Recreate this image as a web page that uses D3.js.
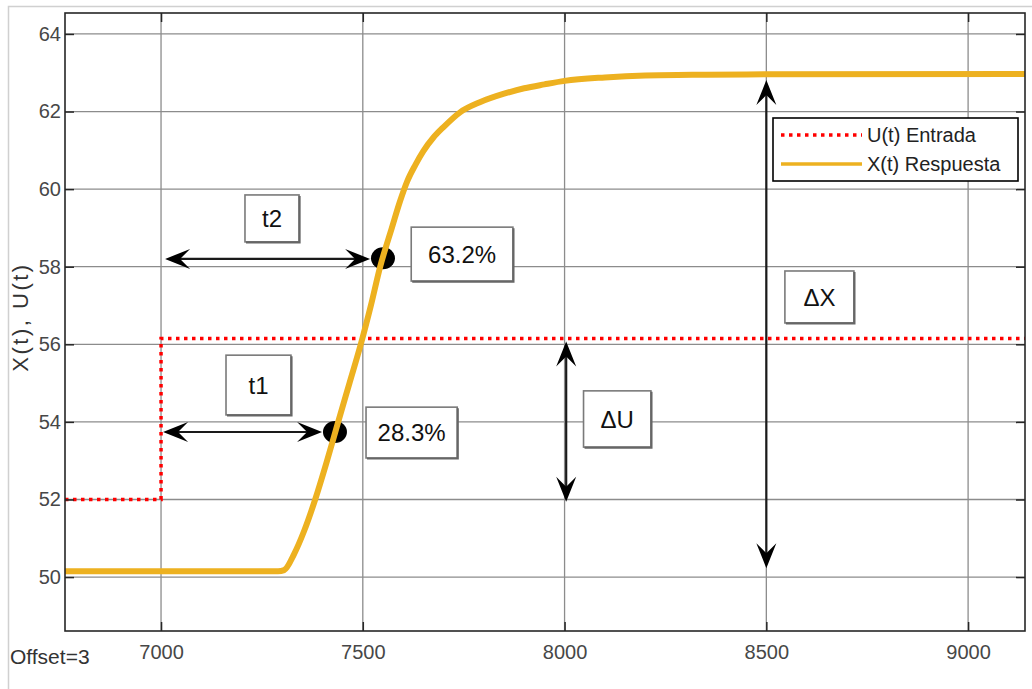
<!DOCTYPE html>
<html>
<head>
<meta charset="utf-8">
<script src="https://cdn.jsdelivr.net/npm/d3@7"></script>
<style>
body { margin: 0; background: #fff; }
svg { display: block; font-family: "Liberation Sans", Arial, sans-serif; }
</style>
</head>
<body>
<svg></svg>
<script>
// U(t) entrada (escalon)
const uTime = [6762, 7000, 7000, 9141];
const uValue = [52, 52, 56.15, 56.15];

// X(t) respuesta
const xTime = [6762, 7290, 7305, 7330, 7355, 7382, 7410, 7439, 7467, 7495, 7520, 7543, 7572, 7592, 7610, 7630, 7650, 7675, 7700, 7741, 7790, 7850, 7900, 7950, 8000, 8100, 8200, 8350, 8500, 9141];
const xValue = [50.15, 50.15, 50.18, 50.6, 51.2, 52.0, 52.95, 54.0, 55.0, 56.0, 57.0, 58.0, 59.0, 59.68, 60.2, 60.62, 60.98, 61.33, 61.6, 61.98, 62.24, 62.46, 62.6, 62.7, 62.79, 62.88, 62.93, 62.95, 62.96, 62.97];

const xTicks = [7000, 7500, 8000, 8500, 9000];
const yTicks = [50, 52, 54, 56, 58, 60, 62, 64];
const seriesNames = ['U(t) Entrada', 'X(t) Respuesta'];

// puntos 28.3% y 63.2%
const markTime = [7431, 7550];
const markValue = [53.74, 58.22];

// flechas [t0, v0, t1, v1]
const arrows = [
  [7010, 58.2, 7518, 58.2],
  [7005, 53.74, 7399, 53.74],
  [8004, 56.07, 8004, 51.94],
  [8500, 62.81, 8500, 50.23]
];

// cuadros de texto [texto, t0, v0, t1, v1]
const boxes = [
  ['t2', 7208, 59.85, 7342, 58.64],
  ['63.2%', 7620, 59.02, 7872, 57.63],
  ['t1', 7161, 55.72, 7322, 54.18],
  ['28.3%', 7508, 54.38, 7734, 53.07],
  ['\u0394U', 8047, 54.80, 8214, 53.35],
  ['\u0394X', 8546, 57.89, 8717, 56.55]
];

const width = 1032;
const height = 689;
const svg = d3.select('svg').attr('width', width).attr('height', height);

const pL = 65, pR = 1025, pT = 13, pB = 631;
const x = d3.scaleLinear().domain([6762, 9141]).range([pL, pR]);
const y = d3.scaleLinear().domain([48.61, 64.54]).range([pB, pT]);

// marco exterior
svg.append('path')
  .attr('d', `M8.5,${height} V6.5 H${width}`)
  .attr('fill', 'none').attr('stroke', '#d0d0d0').attr('stroke-width', 1.5);

// rejilla
const grid = svg.append('g').attr('stroke', '#8c8c8c').attr('stroke-width', 1.3);
grid.selectAll('.gx').data(xTicks).enter().append('line')
  .attr('x1', d => x(d)).attr('x2', d => x(d)).attr('y1', pT).attr('y2', pB);
grid.selectAll('.gy').data(yTicks).enter().append('line')
  .attr('y1', d => y(d)).attr('y2', d => y(d)).attr('x1', pL).attr('x2', pR);

const plot = svg.append('g');
const line = d3.line().x(d => x(d[0])).y(d => y(d[1]));

const uData = uTime.map((t, i) => [t, uValue[i]]);
const xData = xTime.map((t, i) => [t, xValue[i]]);

plot.append('path')
  .attr('d', line(uData))
  .attr('fill', 'none').attr('stroke', '#ff0000')
  .attr('stroke-width', 3.5).attr('stroke-dasharray', '3.5,4.5');

// flechas
const arrowG = plot.append('g');
arrows.forEach(a => {
  const x0 = x(a[0]), y0 = y(a[1]), x1 = x(a[2]), y1 = y(a[3]);
  const ang = Math.atan2(y1 - y0, x1 - x0) * 180 / Math.PI;
  const len = Math.hypot(x1 - x0, y1 - y0);
  const ux = (x1 - x0) / len, uy = (y1 - y0) / len;
  arrowG.append('line')
    .attr('x1', x0 + ux * 12).attr('y1', y0 + uy * 12)
    .attr('x2', x1 - ux * 12).attr('y2', y1 - uy * 12)
    .attr('stroke', '#1a1a1a').attr('stroke-width', 2.2);
  [[x1, y1, ang], [x0, y0, ang + 180]].forEach(h => {
    arrowG.append('path')
      .attr('d', 'M0,0 L-25,-10 L-15,0 L-25,10 Z')
      .attr('transform', `translate(${h[0]},${h[1]}) rotate(${h[2]})`)
      .attr('fill', '#000');
  });
});

// puntos
plot.selectAll('.mark').data(markTime).enter().append('ellipse')
  .attr('cx', d => x(d)).attr('cy', (d, i) => y(markValue[i]))
  .attr('rx', 12).attr('ry', 11).attr('fill', '#000');

plot.append('path')
  .attr('d', line.curve(d3.curveMonotoneX)(xData))
  .attr('fill', 'none').attr('stroke', '#EDB120')
  .attr('stroke-width', 6).attr('stroke-linejoin', 'round');

// cuadros
boxes.forEach(b => {
  const x0 = x(b[1]), y0 = y(b[2]), x1 = x(b[3]), y1 = y(b[4]);
  const g = plot.append('g');
  g.append('rect')
    .attr('x', x0).attr('y', y0).attr('width', x1 - x0).attr('height', y1 - y0)
    .attr('fill', '#fff').attr('stroke', '#7a7a7a').attr('stroke-width', 1.6);
  g.append('path')
    .attr('d', `M${x0 + 1},${y1 + 0.5} H${x1 + 0.5} V${y0 + 1}`)
    .attr('fill', 'none').attr('stroke', '#666').attr('stroke-width', 2.2);
  g.append('text')
    .attr('x', (x0 + x1) / 2).attr('y', (y0 + y1) / 2)
    .attr('dy', '0.36em').attr('text-anchor', 'middle')
    .attr('font-size', 24).attr('fill', '#111')
    .text(b[0]);
});

// ejes
function styleAxis(g, labels) {
  g.select('.domain').remove();
  g.selectAll('.tick line').attr('stroke', '#262626').attr('stroke-width', 1.5);
  g.selectAll('text')
    .attr('font-family', '"Liberation Sans", Arial, sans-serif')
    .attr('font-size', 20).attr('fill', '#474747');
  if (!labels) g.selectAll('text').remove();
}
svg.append('g').attr('transform', `translate(0,${pB})`)
  .call(d3.axisBottom(x).tickValues(xTicks).tickSizeInner(-9).tickSizeOuter(0).tickPadding(14).tickFormat(d3.format('d')))
  .call(g => styleAxis(g, true));
svg.append('g').attr('transform', `translate(${pL},0)`)
  .call(d3.axisLeft(y).tickValues(yTicks).tickSizeInner(-9).tickSizeOuter(0).tickPadding(4).tickFormat(d3.format('d')))
  .call(g => styleAxis(g, true));
svg.append('g').attr('transform', `translate(0,${pT})`)
  .call(d3.axisTop(x).tickValues(xTicks).tickSizeInner(-9).tickSizeOuter(0))
  .call(g => styleAxis(g, false));
svg.append('g').attr('transform', `translate(${pR},0)`)
  .call(d3.axisRight(y).tickValues(yTicks).tickSizeInner(-9).tickSizeOuter(0))
  .call(g => styleAxis(g, false));

svg.append('rect')
  .attr('x', pL).attr('y', pT).attr('width', pR - pL).attr('height', pB - pT)
  .attr('fill', 'none').attr('stroke', '#262626').attr('stroke-width', 1.6);

svg.append('text')
  .attr('transform', 'translate(28,317) rotate(-90)')
  .attr('text-anchor', 'middle').attr('font-size', 22)
  .attr('letter-spacing', 2.5).attr('fill', '#333')
  .text('X(t), U(t)');

svg.append('text')
  .attr('x', 10).attr('y', 664)
  .attr('font-size', 21).attr('fill', '#333')
  .text('Offset=3');

// leyenda
const legend = svg.append('g').attr('transform', 'translate(773,118)');
legend.append('rect')
  .attr('width', 245).attr('height', 63)
  .attr('fill', '#fff').attr('stroke', '#000').attr('stroke-width', 1.6);
const legendStyle = [
  { stroke: '#ff0000', width: 3.5, dash: '3.5,4.5' },
  { stroke: '#EDB120', width: 3.5, dash: null }
];
seriesNames.forEach((name, i) => {
  const cy = 17 + i * 29;
  legend.append('line')
    .attr('x1', 8).attr('x2', 89).attr('y1', cy).attr('y2', cy)
    .attr('stroke', legendStyle[i].stroke).attr('stroke-width', legendStyle[i].width)
    .attr('stroke-dasharray', legendStyle[i].dash);
  legend.append('text')
    .attr('x', 94).attr('y', cy).attr('dy', '0.36em')
    .attr('font-size', 20).attr('fill', '#222')
    .text(name);
});
</script>
</body>
</html>
